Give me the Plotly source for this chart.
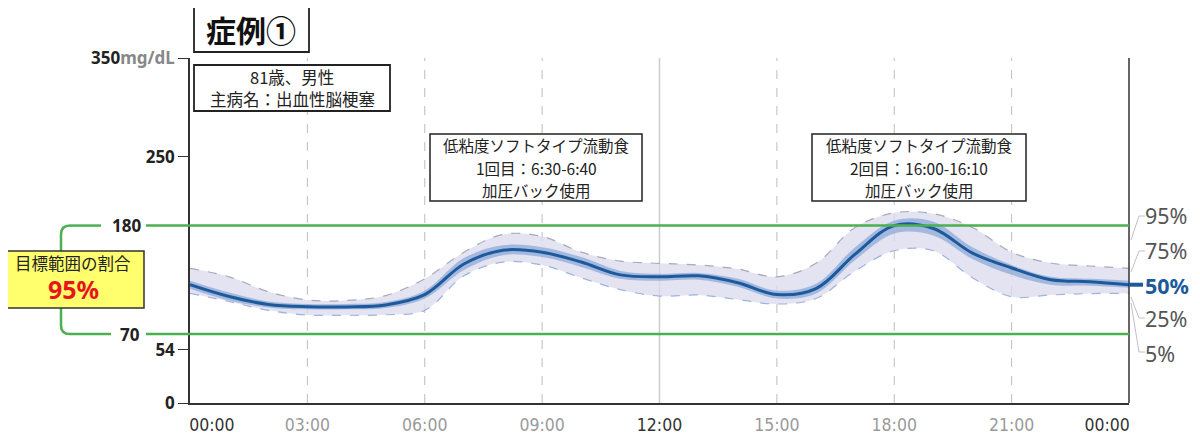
import plotly.graph_objects as go

# 時刻（時）とパーセンタイル値 (mg/dL)
hours = list(range(25))
p95 = [136.6, 128, 113, 104.5, 104, 109, 126, 153, 171, 169, 153, 144, 141.7,
       140, 136, 128, 141.7, 178, 193, 192, 178, 153, 142, 139, 136.6]
p75 = [124, 112, 103, 100.5, 100.5, 102.5, 114, 147, 160, 158, 148, 134, 131,
       132, 126, 114, 121, 158, 185, 184, 158, 140, 128, 126, 124]
p50 = [120, 108, 100, 97.7, 97.5, 99.5, 110, 141, 155, 153, 143, 130, 128,
       129, 122, 110, 116, 151, 180, 177, 152, 137, 125, 123, 120]
p25 = [116, 104, 97, 95, 95, 96.5, 106, 135, 150, 148, 138, 126, 124,
       125, 118, 106, 111, 145, 172, 170, 146, 130, 120, 119, 117]
p05 = [111.3, 103, 94, 89.3, 89, 89.5, 94, 129, 143, 140, 127, 115, 108.5,
       109.6, 105, 100.4, 106, 134, 154.5, 154.5, 127, 107.8, 109.6, 111, 111.3]

target_low, target_high = 70, 180
y_ticks = [0, 54, 250, 350]
x_tick_hours = [0.56, 3, 6, 9, 12, 15, 18, 21, 23.44]
x_tick_labels = ["00:00", "03:00", "06:00", "09:00", "12:00", "15:00", "18:00", "21:00", "00:00"]
pct_labels = ["95%", "75%", "50%", "25%", "5%"]

# 画面ピクセル → paper座標（プロット領域 x:190-1129, y:58-403）
def px(x):
    return (x - 190) / 939

def py(y):
    return (403 - y) / 345

fig = go.Figure()
fig.add_trace(go.Scatter(x=hours, y=p05, mode="lines", line=dict(color="#9fb3e0", width=1.2, dash="dash", shape="spline"), hoverinfo="skip"))
fig.add_trace(go.Scatter(x=hours, y=p95, mode="lines", fill="tonexty", fillcolor="rgba(218,218,236,0.75)",
                         line=dict(color="#a9a9b8", width=1.2, dash="dash", shape="spline"), hoverinfo="skip"))
fig.add_trace(go.Scatter(x=hours, y=p25, mode="lines", line=dict(color="rgba(0,0,0,0)", width=0, shape="spline"), hoverinfo="skip"))
fig.add_trace(go.Scatter(x=hours, y=p75, mode="lines", fill="tonexty", fillcolor="rgba(120,155,210,0.6)",
                         line=dict(color="rgba(0,0,0,0)", width=0, shape="spline"), hoverinfo="skip"))
fig.add_trace(go.Scatter(x=hours, y=p50, mode="lines", line=dict(color="#1d5a9c", width=3, shape="spline")))

shapes = []
# グリッド線
for h in [3, 6, 9, 15, 18, 21]:
    shapes.append(dict(type="line", xref="x", yref="paper", x0=h, x1=h, y0=0, y1=1,
                       line=dict(color="#bdbdbd", width=1, dash="dash"), layer="below"))
shapes.append(dict(type="line", xref="x", yref="paper", x0=12, x1=12, y0=0, y1=1,
                   line=dict(color="#cccccc", width=1.5), layer="below"))
# 枠線
shapes.append(dict(type="line", xref="paper", yref="paper", x0=1, x1=1, y0=0, y1=1, line=dict(color="#333", width=1.5)))
# 目標範囲
for v in [target_low, target_high]:
    shapes.append(dict(type="line", xref="paper", yref="y", x0=px(146), x1=1, y0=v, y1=v, line=dict(color="#4caf50", width=2.5)))
shapes.append(dict(type="line", xref="paper", yref="y", x0=px(70), x1=px(101), y0=target_high, y1=target_high, line=dict(color="#4caf50", width=2.5)))
shapes.append(dict(type="line", xref="paper", yref="y", x0=px(70), x1=px(111), y0=target_low, y1=target_low, line=dict(color="#4caf50", width=2.5)))
bx = px(61)
shapes.append(dict(type="path", xref="paper", yref="y",
                   path=f"M {px(70)},{target_high} Q {bx},{target_high} {bx},{target_high - 9} L {bx},{target_low + 9} Q {bx},{target_low} {px(70)},{target_low}",
                   line=dict(color="#4caf50", width=2.5)))
# 黄色ボックス
shapes.append(dict(type="rect", xref="paper", yref="paper", x0=px(3), x1=px(144), y0=py(308), y1=py(251),
                   fillcolor="#ffff6e", line=dict(color="#333", width=1.5)))
# タイトル・説明ボックス
shapes.append(dict(type="rect", xref="paper", yref="paper", x0=px(194), x1=px(309), y0=py(52), y1=py(5),
                   fillcolor="white", line=dict(color="#222", width=1.8)))
shapes.append(dict(type="rect", xref="paper", yref="paper", x0=px(194), x1=px(390), y0=py(111), y1=py(65),
                   fillcolor="white", line=dict(color="#222", width=1.8)))
shapes.append(dict(type="rect", xref="paper", yref="paper", x0=px(430), x1=px(642), y0=py(201), y1=py(134),
                   fillcolor="white", line=dict(color="#222", width=1.5)))
shapes.append(dict(type="rect", xref="paper", yref="paper", x0=px(812), x1=px(1026), y0=py(201), y1=py(134),
                   fillcolor="white", line=dict(color="#222", width=1.5)))
# 右側ラベルの引き出し線
leaders = [((1131, 240), (1139, 216), (1145, 216)),
           ((1131, 272), (1139, 251), (1145, 251)),
           ((1131, 297), (1139, 318), (1145, 318)),
           ((1131, 303), (1139, 352), (1145, 352))]
for (a, b, c) in leaders:
    shapes.append(dict(type="path", xref="paper", yref="paper",
                       path=f"M {px(a[0])},{py(a[1])} L {px(b[0])},{py(b[1])} L {px(c[0])},{py(c[1])}",
                       line=dict(color="#c0c0cc", width=1)))
shapes.append(dict(type="line", xref="paper", yref="y", x0=1, x1=px(1143), y0=p50[-1], y1=p50[-1],
                   line=dict(color="#1d5a9c", width=4)))

jp = "Noto Sans CJK JP"
ann = []
def text(x, y, s, size, color="#222", xanchor="center", bold=False, family=jp):
    ann.append(dict(xref="paper", yref="paper", x=px(x), y=py(y), text=f"<b>{s}</b>" if bold else s,
                    showarrow=False, xanchor=xanchor, yanchor="middle",
                    font=dict(size=size, color=color, family=family)))

text(251, 29, "症例①", 30, "#111", bold=True)
text(292, 77, "81歳、男性", 16.5)
text(292, 99, "主病名：出血性脳梗塞", 16.5)
for cx, line2 in [(536, "1回目：6:30-6:40"), (919, "2回目：16:00-16:10")]:
    text(cx, 145, "低粘度ソフトタイプ流動食", 15.5)
    text(cx, 168, line2, 15.5)
    text(cx, 190, "加圧バック使用", 15.5)
text(73, 263, "目標範囲の割合", 16.5)
text(73, 289, "95%", 25, "#e8151b", bold=True, family="Noto Sans")
text(143, 225, "180", 17, "#222", xanchor="right", bold=True, family="Noto Sans")
text(142, 334, "70", 17, "#222", xanchor="right", bold=True, family="Noto Sans")
pct_y = [216, 250, 285, 318, 353]
for lab, yy in zip(pct_labels, pct_y):
    if lab == "50%":
        text(1143, yy, lab, 21.5, "#1d5a9c", xanchor="left", bold=True, family="Noto Sans")
    else:
        text(1143, yy, lab, 21.5, "#555", xanchor="left", family="Noto Sans")

y_text = [str(v) for v in y_ticks]
y_text[-1] = "350<span style='color:#888'>mg/dL</span>"
x_text = [f"<span style='color:#333'>{t}</span>" if i in (0, 4, 8) else t for i, t in enumerate(x_tick_labels)]

# ページ本体の余白(8px)を差し引いたサイズ
fig.update_layout(
    width=1192, height=426,
    margin=dict(l=182, r=71, t=50, b=31),
    plot_bgcolor="white", paper_bgcolor="white",
    showlegend=False,
    shapes=shapes, annotations=ann,
    xaxis=dict(range=[0, 24], showgrid=False, zeroline=False, showline=True, linecolor="#333", linewidth=1.5,
               tickvals=x_tick_hours, ticktext=x_text, ticks="", ticklabelstandoff=5, automargin=False,
               tickfont=dict(size=17.5, color="#9a9a9a", family="Liberation Sans Narrow, DejaVu Sans Condensed, Roboto")),
    yaxis=dict(range=[0, 350], showgrid=False, zeroline=False, showline=True, linecolor="#333", linewidth=1.5,
               tickvals=y_ticks, ticktext=y_text, ticks="outside", ticklen=10, tickcolor="#333", automargin=False,
               tickfont=dict(size=17, color="#222", family="Noto Sans", weight="bold")),
)

fig.write_html("out.html")
